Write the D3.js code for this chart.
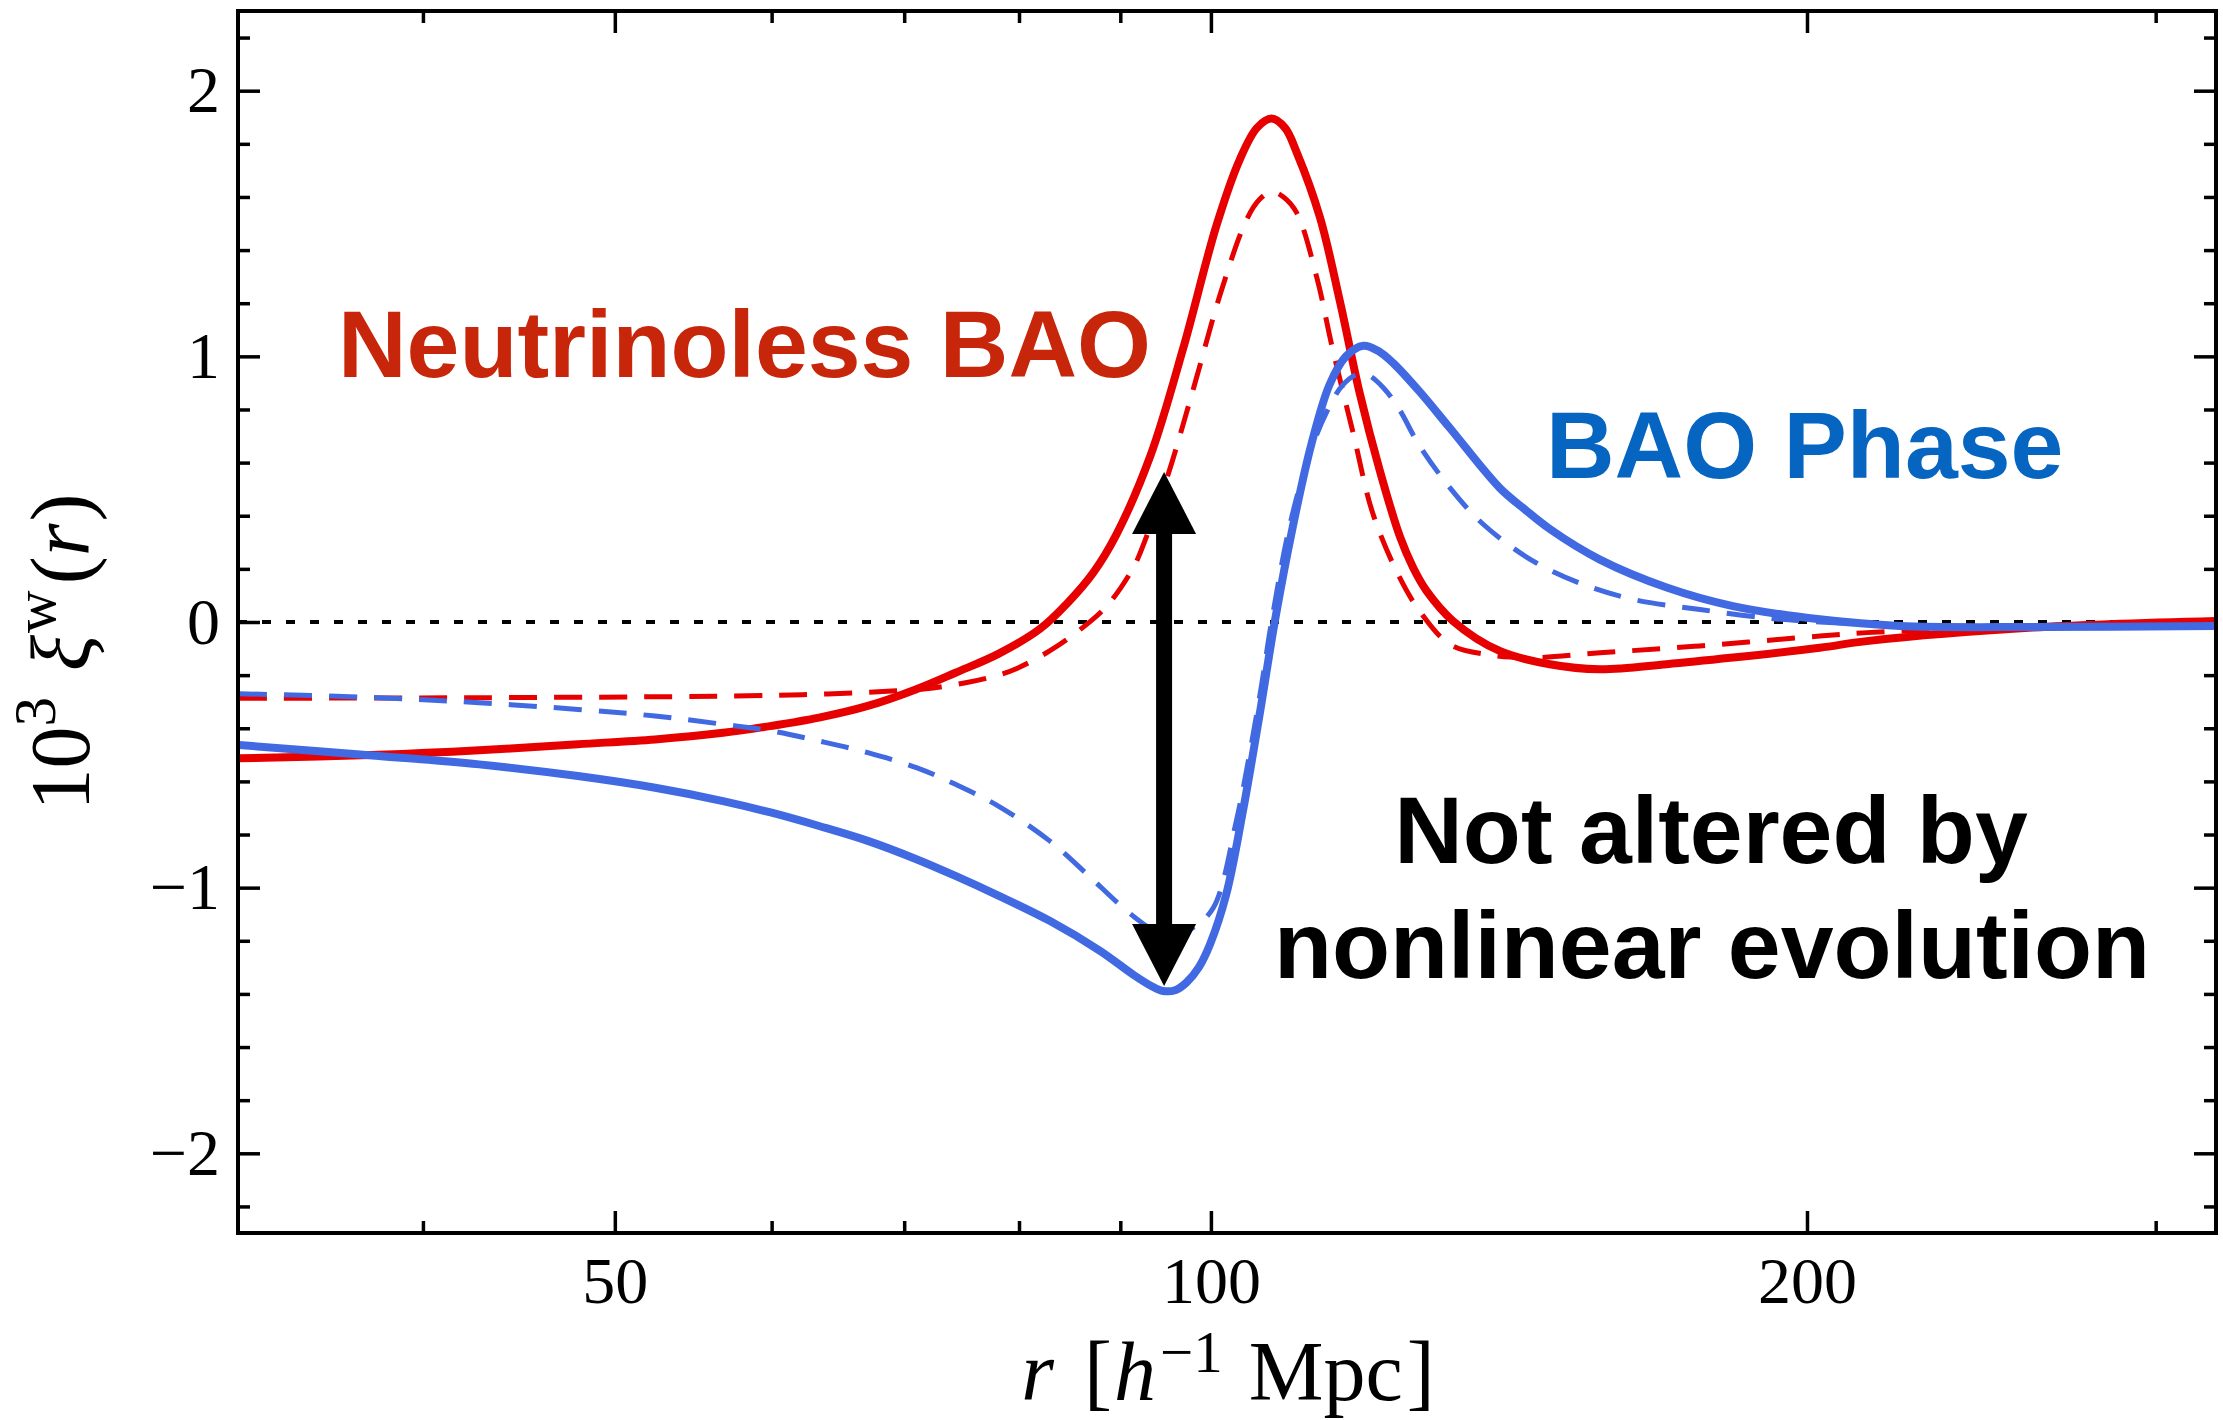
<!DOCTYPE html>
<html>
<head>
<meta charset="utf-8">
<script src="https://cdn.jsdelivr.net/npm/d3@7"></script>
<style>
  html, body { margin: 0; padding: 0; background: #ffffff; }
  svg { display: block; }
</style>
</head>
<body>
<svg id="chart" width="2223" height="1420"></svg>
<script>
// ---------------- data ----------------
// separation r [h^-1 Mpc] on a log axis, 10^3 xi^w(r) on a linear axis
const rRange = [32.26, 321.8];
const xiRange = [-2.3, 2.3];

const xMajorTicks = [50, 100, 200];
const xMinorTicks = [40, 60, 70, 80, 90, 300];
const yMajorTicks = [-2, -1, 0, 1, 2];
const yMinorTicks = [-2.2, -1.8, -1.6, -1.4, -1.2, -0.8, -0.6, -0.4, -0.2,
                     0.2, 0.4, 0.6, 0.8, 1.2, 1.4, 1.6, 1.8, 2.2];

// Neutrinoless BAO, solid (red)
const rRedSolid  = [32.3, 38, 42.7, 47.9, 52.4, 56.7, 60, 63.4, 67.1, 71, 74.3, 78.1, 82, 84.6, 87.2, 89.6,
                    93.2, 96.8, 100.7, 103.4, 105.5, 107.3, 109.0, 110.5, 113.5, 116.2, 118.9, 121.7, 124.6,
                    126.5, 128.5, 132.5, 139.9, 148.3, 157.2, 169.9, 183.5, 203, 214.4, 260, 321.8];
const xiRedSolid = [-0.513, -0.50, -0.483, -0.46, -0.442, -0.417, -0.391, -0.36, -0.316, -0.253, -0.191, -0.12,
                    -0.025, 0.07, 0.185, 0.33, 0.625, 1.027, 1.498, 1.74, 1.86, 1.895, 1.86, 1.767, 1.525,
                    1.205, 0.86, 0.57, 0.32, 0.205, 0.117, 0.004, -0.109, -0.159, -0.178, -0.159, -0.134,
                    -0.097, -0.072, -0.021, 0.004];

// Neutrinoless BAO, dashed (red)
const rRedDashed  = [32.3, 42.7, 56.7, 63.4, 69, 72, 75.3, 78.1, 79.8, 82.9, 85.5, 88.6, 91.3, 92.1, 95, 98,
                     101.05, 104.2, 105.8, 107.3, 108.8, 110.5, 113.1, 115.2, 118, 120.7, 124.3, 127.5,
                     132.05, 137.8, 145.4, 157.2, 176.6, 203, 214.4, 260, 321.8];
const xiRedDashed = [-0.287, -0.285, -0.279, -0.272, -0.26, -0.25, -0.228, -0.2, -0.175, -0.109, -0.04, 0.06,
                     0.2, 0.26, 0.54, 0.88, 1.23, 1.512, 1.59, 1.62, 1.6, 1.54, 1.297, 1.028, 0.71, 0.41, 0.18,
                     0.04, -0.084, -0.122, -0.134, -0.116, -0.09, -0.053, -0.04, -0.015, 0.004];

// BAO phase, solid (blue)
const rBlueSolid  = [32.3, 38, 42.7, 47.9, 52.4, 56.7, 60, 63.4, 67.1, 71, 74.3, 78.1, 82.9, 87.9, 91.3, 93.3,
                     94.6, 96, 97.2, 98.6, 99.9, 101.8, 103.8, 105.9, 107.7, 110, 112.4, 114.8, 117, 119.4,
                     121.5, 123.6, 127.5, 132, 139.9, 144, 148.3, 157.2, 169.9, 183.5, 203, 222.8, 260, 321.8];
const xiBlueSolid = [-0.463, -0.504, -0.536, -0.58, -0.624, -0.674, -0.718, -0.768, -0.824, -0.893, -0.956,
                     -1.03, -1.125, -1.238, -1.326, -1.37, -1.389, -1.385, -1.357, -1.3, -1.213, -1.025,
                     -0.711, -0.335, 0.0, 0.36, 0.67, 0.894, 1.0, 1.04, 1.02, 0.975, 0.866, 0.731, 0.505,
                     0.425, 0.35, 0.235, 0.13, 0.06, 0.01, -0.015, -0.019, -0.015];

// BAO phase, dashed (blue)
const rBlueDashed  = [32.3, 38, 42.7, 47.9, 52.4, 56.7, 60, 63.4, 67.1, 71, 74.3, 78.1, 82.9, 86.6, 90.7,
                      93.5, 95.5, 97.97, 100.3, 103, 104.6, 106, 107.3, 109.5, 112, 114.4, 116.5, 118.5, 120,
                      122.2, 124.5, 127.3, 132.05, 137.25, 145.4, 154.1, 163.4, 176.6, 190.9, 203, 222.8,
                      260, 321.8];
const xiBlueDashed = [-0.27, -0.285, -0.304, -0.329, -0.354, -0.385, -0.41, -0.448, -0.492, -0.548, -0.611,
                      -0.693, -0.824, -0.95, -1.088, -1.16, -1.185, -1.15, -1.075, -0.749, -0.497, -0.25, 0.0,
                      0.35, 0.62, 0.79, 0.89, 0.932, 0.93, 0.882, 0.8, 0.67, 0.505, 0.368, 0.23, 0.142, 0.085,
                      0.047, 0.015, 0.0, -0.013, -0.018, -0.015];

// double-headed arrow: position r and its two ends in xi
const arrowR = 94.7;
const arrowXi = [-1.37, 0.565];

// ---------------- layout ----------------
const plot = { left: 238, right: 2216, top: 11, bottom: 1233 };
const serif = "'Liberation Serif', 'DejaVu Serif', serif";
const sans = "'Liberation Sans', Arial, Helvetica, sans-serif";

const svg = d3.select("#chart");

const x = d3.scaleLog().domain(rRange).range([plot.left, plot.right]);
const y = d3.scaleLinear().domain(xiRange).range([plot.bottom, plot.top]);

const plotW = plot.right - plot.left, plotH = plot.bottom - plot.top;

svg.append("defs").append("clipPath").attr("id", "clip")
  .append("rect").attr("x", plot.left).attr("y", plot.top)
  .attr("width", plotW).attr("height", plotH);

// ---------------- axes (ticks point inwards on all four sides) ----------------
function styleAxis(g) {
  g.select(".domain").remove();
  g.selectAll(".tick line").attr("stroke", "#000").attr("stroke-width", 3.5);
  g.selectAll(".tick text").style("font-family", serif).style("font-size", "66px").attr("fill", "#000");
}

const fmtY = d => (d < 0 ? "\u2212" : "") + Math.abs(d);

// bottom
svg.append("g").attr("transform", `translate(0,${plot.bottom})`)
  .call(d3.axisBottom(x).tickValues(xMajorTicks).tickSize(-22).tickSizeOuter(0)
        .tickPadding(23).tickFormat(d3.format("d")))
  .call(styleAxis);
svg.append("g").attr("transform", `translate(0,${plot.bottom})`)
  .call(d3.axisBottom(x).tickValues(xMinorTicks).tickSize(-12).tickSizeOuter(0).tickFormat(""))
  .call(styleAxis);
// top
svg.append("g").attr("transform", `translate(0,${plot.top})`)
  .call(d3.axisTop(x).tickValues(xMajorTicks).tickSize(-22).tickSizeOuter(0).tickFormat(""))
  .call(styleAxis);
svg.append("g").attr("transform", `translate(0,${plot.top})`)
  .call(d3.axisTop(x).tickValues(xMinorTicks).tickSize(-12).tickSizeOuter(0).tickFormat(""))
  .call(styleAxis);
// left
svg.append("g").attr("transform", `translate(${plot.left},0)`)
  .call(d3.axisLeft(y).tickValues(yMajorTicks).tickSize(-22).tickSizeOuter(0)
        .tickPadding(18).tickFormat(fmtY))
  .call(styleAxis);
svg.append("g").attr("transform", `translate(${plot.left},0)`)
  .call(d3.axisLeft(y).tickValues(yMinorTicks).tickSize(-12).tickSizeOuter(0).tickFormat(""))
  .call(styleAxis);
// right
svg.append("g").attr("transform", `translate(${plot.right},0)`)
  .call(d3.axisRight(y).tickValues(yMajorTicks).tickSize(-22).tickSizeOuter(0).tickFormat(""))
  .call(styleAxis);
svg.append("g").attr("transform", `translate(${plot.right},0)`)
  .call(d3.axisRight(y).tickValues(yMinorTicks).tickSize(-12).tickSizeOuter(0).tickFormat(""))
  .call(styleAxis);

// ---------------- zero line ----------------
const body = svg.append("g").attr("clip-path", "url(#clip)");
body.append("line")
  .attr("x1", x(rRange[0])).attr("x2", x(rRange[1]))
  .attr("y1", y(0)).attr("y2", y(0))
  .attr("stroke", "#000").attr("stroke-width", 4).attr("stroke-dasharray", "9,15");

// ---------------- curves ----------------
const line = d3.line().x(d => x(d[0])).y(d => y(d[1])).curve(d3.curveCatmullRom.alpha(0.5));
const zip = (a, b) => a.map((v, i) => [v, b[i]]);

const RED = "#e60000", BLUE = "#4169e1";
const series = [
  { r: rRedSolid,   xi: xiRedSolid,   color: RED,  width: 8, dash: null },
  { r: rRedDashed,  xi: xiRedDashed,  color: RED,  width: 5, dash: "28,17" },
  { r: rBlueSolid,  xi: xiBlueSolid,  color: BLUE, width: 8, dash: null },
  { r: rBlueDashed, xi: xiBlueDashed, color: BLUE, width: 5, dash: "28,17" }
];
series.forEach(s => {
  body.append("path")
    .attr("d", line(zip(s.r, s.xi)))
    .attr("fill", "none")
    .attr("stroke", s.color)
    .attr("stroke-width", s.width)
    .attr("stroke-linejoin", "round")
    .attr("stroke-dasharray", s.dash);
});

// ---------------- double-headed arrow ----------------
const ax = x(arrowR), yTip1 = y(arrowXi[1]), yTip2 = y(arrowXi[0]);
const headLen = 62, headHalf = 32, shaft = 16;
const arrow = svg.append("g").attr("fill", "#000");
arrow.append("rect")
  .attr("x", ax - shaft / 2).attr("y", yTip1 + headLen - 2)
  .attr("width", shaft).attr("height", (yTip2 - yTip1) - 2 * headLen + 4);
arrow.append("path")
  .attr("d", `M${ax},${yTip1} L${ax + headHalf},${yTip1 + headLen} L${ax - headHalf},${yTip1 + headLen} Z`);
arrow.append("path")
  .attr("d", `M${ax},${yTip2} L${ax + headHalf},${yTip2 - headLen} L${ax - headHalf},${yTip2 - headLen} Z`);

// ---------------- frame ----------------
svg.append("rect")
  .attr("x", plot.left).attr("y", plot.top).attr("width", plotW).attr("height", plotH)
  .attr("fill", "none").attr("stroke", "#000").attr("stroke-width", 4);

// ---------------- annotations ----------------
const annot = (txt, px, py, color, anchor) =>
  svg.append("text").attr("x", px).attr("y", py).attr("text-anchor", anchor || "start")
    .style("font-family", sans).style("font-weight", "bold").style("font-size", "95px")
    .attr("fill", color).text(txt);

annot("Neutrinoless BAO", 338, 377, "#c8260a");
annot("BAO Phase", 1546, 478, "#0565c0");
annot("Not altered by", 1711, 863, "#000", "middle");
annot("nonlinear evolution", 1712, 978, "#000", "middle");

// ---------------- axis titles ----------------
const yl = svg.append("text")
  .attr("transform", "translate(89,652) rotate(-90)")
  .attr("text-anchor", "middle")
  .style("font-family", serif).style("font-size", "84px").attr("fill", "#000");
yl.append("tspan").text("10");
yl.append("tspan").attr("dy", -34).style("font-size", "59px").text("3");
yl.append("tspan").attr("dy", 34).attr("dx", 26).style("font-style", "italic").text("\u03BE");
yl.append("tspan").attr("dy", -34).attr("dx", 2).style("font-size", "59px").text("w");
yl.append("tspan").attr("dy", 34).attr("dx", 6).text("(");
yl.append("tspan").style("font-style", "italic").text("r");
yl.append("tspan").attr("dx", 2).text(")");

const xl = svg.append("text")
  .attr("x", 1228).attr("y", 1400)
  .attr("text-anchor", "middle")
  .style("font-family", serif).style("font-size", "84px").attr("fill", "#000");
xl.append("tspan").style("font-style", "italic").text("r");
xl.append("tspan").attr("dx", 30).text("[");
xl.append("tspan").attr("dx", 2).style("font-style", "italic").text("h");
xl.append("tspan").attr("dy", -28).attr("dx", 4).style("font-size", "59px").text("\u22121");
xl.append("tspan").attr("dy", 28).attr("dx", 26).text("Mpc");
xl.append("tspan").attr("dx", 4).text("]");
</script>
</body>
</html>
